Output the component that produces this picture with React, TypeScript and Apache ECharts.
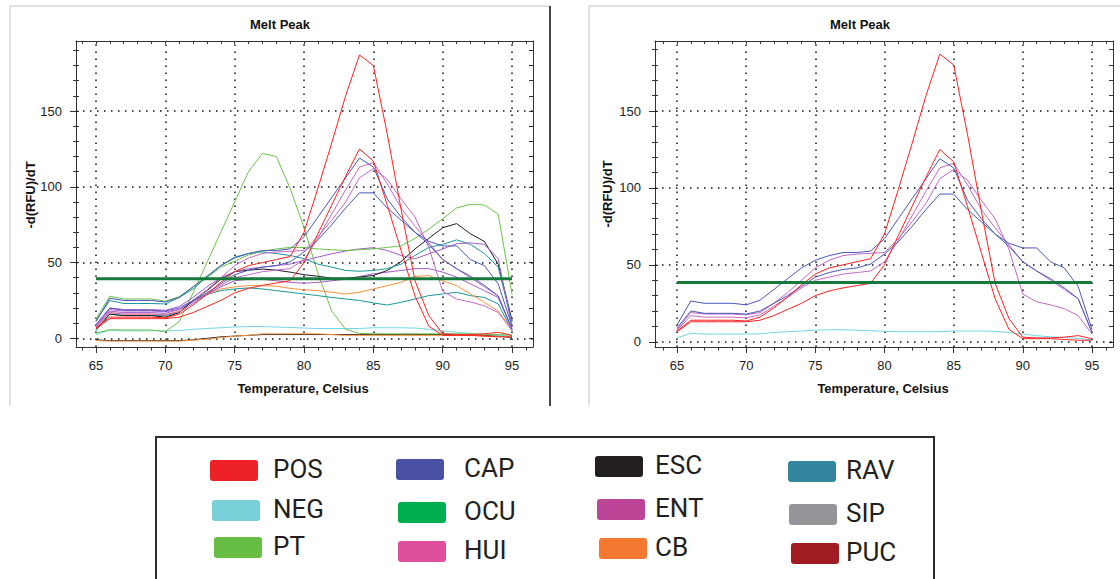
import React, { useEffect, useRef } from "react";
import * as echarts from "echarts";

// ---------- data ----------
const temps = [65, 66, 67, 68, 69, 70, 71, 72, 73, 74, 75, 76, 77, 78, 79, 80, 81, 82, 83, 84, 85, 86, 87, 88, 89, 90, 91, 92, 93, 94, 95];
const xTickLabels = [65, 70, 75, 80, 85, 90, 95];
const xMinorTicks = [64, 65, 66, 67, 68, 69, 70, 71, 72, 73, 74, 75, 76, 77, 78, 79, 80, 81, 82, 83, 84, 85, 86, 87, 88, 89, 90, 91, 92, 93, 94, 95, 96];
const yTickLabels = [0, 50, 100, 150];
const yMinorTicks = [0, 10, 20, 30, 40, 50, 60, 70, 80, 90, 100, 110, 120, 130, 140, 150, 160, 170, 180, 190];

// curves shared by both charts
const posTall = [7, 14, 14, 14, 14, 13.5, 16, 22, 29, 37, 44, 48, 50, 52, 54, 70, 99, 129, 160, 187, 180, 135, 85, 38, 15, 3, 2.5, 2.5, 3, 4, 2];
const posMid = [6.5, 13, 13, 13, 13, 13, 14, 17, 21, 25, 30, 33, 35, 36.5, 38, 50, 69, 88, 107, 125, 117, 88, 58, 28, 8, 2, 2, 2, 1.5, 1, 1];
const capHigh = [11, 26.5, 25, 25, 25, 24, 27, 34, 41, 48, 53, 56, 58, 58, 59, 67, 80, 93, 106, 119, 113, 92, 80, 70, 62, 52, 46, 41, 35, 28, 6];
const capLow = [9, 20, 18.5, 18.5, 18.5, 18, 20, 25, 30, 36, 42, 45, 47, 48, 50.5, 57, 65, 75, 86, 96, 96, 86, 78, 70, 64, 61, 61, 52, 48, 36, 8];
const entTail = [8, 19, 18, 18, 18, 17.5, 19, 25, 32, 40, 48, 53, 56, 57, 57.5, 58, 67, 78, 90, 106, 112, 105, 92, 80, 60, 31, 26, 24, 21.5, 17, 5];
const entPeak = [7.5, 17, 16, 16, 16, 15.5, 17.5, 23, 29, 35, 40, 42, 44, 45, 46, 52, 66, 82, 98, 113, 116, 102, 86, 74, 63, 52, 46, 40, 34, 28, 6];
const neg = [2.5, 5.5, 5, 5, 5, 5, 5.2, 6, 6.5, 7, 7.5, 7.8, 7.8, 7.5, 7.2, 6.8, 6.5, 6.5, 6.5, 6.5, 7, 7, 7, 6.8, 6, 5, 4, 3.2, 2.8, 2.2, 1.2];

// curves only in the left chart
const ptPeak = [3.5, 5.7, 5.5, 5.5, 5.5, 4.5, 11, 30, 50, 70, 90, 110, 122, 120, 99, 73, 43, 18, 6, 3.3, 3, 3, 3, 3, 3, 3, 3, 3, 2.5, 2.5, 2];
const ptLate = [12.8, 27.8, 26, 26, 26, 24.5, 27.5, 34, 40, 47, 51, 55, 57.5, 59, 60, 60, 59, 58.5, 58, 58.5, 59, 60, 61, 66, 72, 79, 86, 88.5, 88, 82, 29];
const escMain = [6, 16, 15, 15, 15, 14, 17, 25, 31.5, 39, 44, 45, 45.7, 45, 43.7, 42, 41, 39.7, 39.7, 40.4, 41.5, 44.8, 50.7, 59, 66, 73, 75.7, 69, 64, 49, 11.7];
const escZero = [-1, -1.5, -1.5, -1.5, -1.5, -1.5, -1.5, -1, 0, 1, 1.5, 2, 2.5, 2.5, 2.5, 2.5, 2.5, 2.5, 2.5, 2.5, 2.5, 2.5, 2.5, 2.5, 2.5, 2.5, 2.5, 2, 2, 1.5, 0.5];
const cbZero = [-1.5, -1.8, -1.8, -1.8, -1.8, -1.8, -1.8, -1.2, -0.5, 0.5, 1.5, 2, 3, 3, 3, 3, 3, 2.5, 2, 2, 2, 2, 2, 2, 2, 2, 2, 2, 1.5, 1.5, 1];
const cbMain = [8, 17, 16, 16, 16, 15.5, 18, 25, 29, 32.6, 34, 34.8, 34.8, 34.4, 33, 32, 31.5, 30.4, 29.3, 30.4, 32.6, 34.8, 37, 40.8, 41.5, 38, 34.8, 29.3, 23.8, 18, 6];
const ravHigh = [11.7, 25, 23, 23, 23, 22.7, 27, 32.6, 40.4, 48, 53.6, 56, 57, 56, 54.7, 52.5, 49, 47, 44.8, 44.3, 44.8, 46, 49, 54.7, 60, 62, 65, 62, 56, 47, 10.6];
const ravLow = [5, 16, 15, 15, 15, 15, 17, 25, 29, 31.5, 32.6, 33.3, 32.6, 31.5, 30.4, 29.3, 28.2, 27, 26, 25, 23.4, 22, 23.8, 26, 28.2, 29.3, 30.4, 28.2, 27, 22.7, 5];
const entMid = [9, 20, 19, 19, 19, 18.5, 21, 27, 34, 40, 44, 46, 47, 48, 49, 51.4, 53.6, 55.8, 57.6, 59, 59.8, 58, 54.7, 52.5, 55.8, 59, 62.4, 63, 62, 52.5, 7.3];
const entLow = [8, 18, 17, 17, 17, 16.5, 19, 24, 29, 34, 38, 39, 39, 38, 37, 36.4, 37, 38, 39, 40.8, 42.6, 43.7, 44.8, 46, 46, 43.7, 40.4, 36, 31.5, 27, 6];

const thresholdLeft = 39.3;
const thresholdRight = 38.5;

const legendNames = ["POS", "NEG", "PT", "CAP", "OCU", "HUI", "ESC", "ENT", "CB", "RAV", "SIP", "PUC"];

// ---------- styles / layout ----------
const legendColors = ["#ee2127", "#7ad0d9", "#68bd45", "#4b51a2", "#00ae4f", "#e04f9b", "#231f20", "#bc4598", "#f4782f", "#34869f", "#939598", "#a01c21"];
const swatchPos = [
  [210, 460], [212, 500], [214, 537],
  [396, 459], [398, 502], [398, 541],
  [595, 456], [597, 499], [599, 538],
  [788, 461], [789, 504], [791, 543],
];
const legendTextX = [273, 464, 655, 846];

const C = {
  red: "#ff2020",
  blue: "#4a58bc",
  orchid: "#c568c8",
  purple: "#a45cc6",
  green: "#6cc24a",
  teal: "#17989a",
  black: "#1e1e1e",
  orange: "#f7913a",
  cyan: "#72d6e6",
};

const leftCurves: [string, number[], string][] = [
  ["ESC-0", escZero, C.black],
  ["CB-0", cbZero, C.orange],
  ["NEG", neg, C.cyan],
  ["PT-1", ptPeak, C.green],
  ["RAV-2", ravLow, C.teal],
  ["CB-1", cbMain, C.orange],
  ["ENT-3", entLow, C.purple],
  ["ESC-1", escMain, C.black],
  ["RAV-1", ravHigh, C.teal],
  ["ENT-4", entMid, C.purple],
  ["PT-2", ptLate, C.green],
  ["ENT-2", entPeak, C.orchid],
  ["ENT-1", entTail, C.orchid],
  ["CAP-2", capLow, C.blue],
  ["CAP-1", capHigh, C.blue],
  ["POS-2", posMid, C.red],
  ["POS-1", posTall, C.red],
];
const rightCurves: [string, number[], string][] = [
  ["NEG", neg, C.cyan],
  ["ENT-2", entPeak, C.orchid],
  ["ENT-1", entTail, C.orchid],
  ["CAP-2", capLow, C.blue],
  ["CAP-1", capHigh, C.blue],
  ["POS-2", posMid, C.red],
  ["POS-1", posTall, C.red],
];

const FONT = '"Liberation Sans", Arial, sans-serif';
const AX = "#333";

function axes(gi: number, xmin: number, xmax: number, ymin: number, ymax: number) {
  const base = { gridIndex: gi, type: "value" as const, splitLine: { show: false } };
  const xs = [
    {
      ...base, min: xmin, max: xmax, position: "bottom",
      axisLine: { show: true, onZero: false, lineStyle: { color: AX, width: 1 } },
      axisTick: { show: true, customValues: xTickLabels, length: 6, lineStyle: { color: AX } },
      axisLabel: { show: true, customValues: xTickLabels, margin: 12, color: "#222", fontSize: 13, fontFamily: FONT },
    },
    {
      ...base, min: xmin, max: xmax, position: "bottom",
      axisLine: { show: false, onZero: false },
      axisTick: { show: true, customValues: xMinorTicks, length: 3.5, lineStyle: { color: AX } },
      axisLabel: { show: false },
    },
    {
      ...base, min: xmin, max: xmax, position: "top",
      axisLine: { show: true, onZero: false, lineStyle: { color: AX, width: 1 } },
      axisTick: { show: true, inside: true, customValues: xMinorTicks, length: 3, lineStyle: { color: AX } },
      axisLabel: { show: false },
    },
  ];
  const ys = [
    {
      ...base, min: ymin, max: ymax, position: "left",
      axisLine: { show: true, onZero: false, lineStyle: { color: AX, width: 1 } },
      axisTick: { show: true, customValues: yTickLabels, length: 6, lineStyle: { color: AX } },
      axisLabel: { show: true, customValues: yTickLabels, margin: 14, color: "#222", fontSize: 13, fontFamily: FONT },
    },
    {
      ...base, min: ymin, max: ymax, position: "left",
      axisLine: { show: false, onZero: false },
      axisTick: { show: true, customValues: yMinorTicks, length: 3, lineStyle: { color: AX } },
      axisLabel: { show: false },
    },
    {
      ...base, min: ymin, max: ymax, position: "left",
      axisLine: { show: false, onZero: false },
      axisTick: { show: true, inside: true, customValues: yMinorTicks, length: 3, lineStyle: { color: AX } },
      axisLabel: { show: false },
    },
    {
      ...base, min: ymin, max: ymax, position: "right",
      axisLine: { show: true, onZero: false, lineStyle: { color: AX, width: 1 } },
      axisTick: { show: true, inside: true, customValues: yMinorTicks, length: 4, lineStyle: { color: AX } },
      axisLabel: { show: false },
    },
  ];
  return { xs, ys };
}

function seriesFor(curves: [string, number[], string][], xi: number, yi: number, threshold: number) {
  const out: any[] = [];
  out.push({
    type: "line", xAxisIndex: xi, yAxisIndex: yi, data: [], silent: true,
    markLine: {
      silent: true, symbol: "none", z: 1, animation: false,
      label: { show: false },
      lineStyle: { color: "#111", width: 1.5, type: [1.5, 5.5] },
      data: [
        ...xTickLabels.map((v) => ({ xAxis: v })),
        ...yTickLabels.map((v) => ({ yAxis: v })),
      ],
    },
  });
  curves.forEach(([name, vals, color]) => {
    out.push({
      name, type: "line", xAxisIndex: xi, yAxisIndex: yi,
      showSymbol: false, symbol: "none", silent: true,
      lineStyle: { width: 1, color }, itemStyle: { color },
      data: temps.map((t, i) => [t, vals[i]]),
    });
  });
  out.push({
    name: "threshold", type: "line", xAxisIndex: xi, yAxisIndex: yi,
    showSymbol: false, symbol: "none", silent: true,
    lineStyle: { width: 3, color: "#16793c" },
    data: [[temps[0], threshold], [temps[temps.length - 1], threshold]],
  });
  return out;
}

function buildGraphic() {
  const g: any[] = [];
  const gray = "#c4c4c4";
  // panel frames
  g.push({ type: "line", shape: { x1: 10, y1: 6, x2: 550, y2: 6 }, style: { stroke: gray, lineWidth: 1 } });
  g.push({ type: "line", shape: { x1: 10, y1: 6, x2: 10, y2: 406 }, style: { stroke: gray, lineWidth: 1 } });
  g.push({ type: "line", shape: { x1: 550, y1: 6, x2: 550, y2: 406 }, style: { stroke: "#1a1a1a", lineWidth: 1.6 } });
  g.push({ type: "line", shape: { x1: 589, y1: 6, x2: 1120, y2: 6 }, style: { stroke: gray, lineWidth: 1 } });
  g.push({ type: "line", shape: { x1: 589, y1: 6, x2: 589, y2: 406 }, style: { stroke: gray, lineWidth: 1 } });

  const bold = `bold 13px ${FONT}`;
  const texts = [
    { x: 280, y: 24, t: "Melt Peak" },
    { x: 860, y: 24, t: "Melt Peak" },
    { x: 303, y: 388, t: "Temperature, Celsius" },
    { x: 883, y: 388, t: "Temperature, Celsius" },
  ];
  texts.forEach((o) =>
    g.push({ type: "text", x: o.x, y: o.y, style: { text: o.t, font: bold, fill: "#111", align: "center", verticalAlign: "middle" } })
  );
  [{ x: 30.5, y: 195 }, { x: 607, y: 194 }].forEach((o) =>
    g.push({ type: "text", x: o.x, y: o.y, rotation: Math.PI / 2, style: { text: "-d(RFU)/dT", font: bold, fill: "#111", align: "center", verticalAlign: "middle" } })
  );

  // legend box
  g.push({ type: "rect", shape: { x: 156, y: 437, width: 778, height: 170 }, style: { fill: "none", stroke: "#2b2b2b", lineWidth: 2 } });
  legendNames.forEach((name, i) => {
    const [sx, sy] = swatchPos[i];
    const col = Math.floor(i / 3);
    g.push({ type: "rect", shape: { x: sx, y: sy, width: 48, height: 21, r: 3 }, style: { fill: legendColors[i] } });
    g.push({
      type: "text", x: legendTextX[col], y: sy + 10.5 - 1.5,
      style: { text: name, font: `26px Roboto, "Noto Sans", sans-serif`, fill: "#231f20", align: "left", verticalAlign: "middle" },
    });
  });
  return g;
}

export default function App() {
  const ref = useRef<HTMLDivElement>(null);
  useEffect(() => {
    if (!ref.current) return;
    const chart = echarts.init(ref.current, undefined, { renderer: "svg" });
    const L = axes(0, 63.56, 96.51, -5.7, 196.2);
    const R = axes(1, 63.41, 96.52, -3.4, 195.5);
    const option: any = {
      animation: false,
      backgroundColor: "#ffffff",
      grid: [
        { left: 76, top: 41, width: 457, height: 306, containLabel: false },
        { left: 655, top: 41, width: 458, height: 306, containLabel: false },
      ],
      xAxis: [...L.xs, ...R.xs],
      yAxis: [...L.ys, ...R.ys],
      series: [...seriesFor(leftCurves, 0, 0, thresholdLeft), ...seriesFor(rightCurves, 3, 4, thresholdRight)],
      graphic: buildGraphic(),
    };
    chart.setOption(option);
    return () => chart.dispose();
  }, []);
  return <div ref={ref} style={{ position: "absolute", left: 0, top: 0, width: 1120, height: 579 }} />;
}
